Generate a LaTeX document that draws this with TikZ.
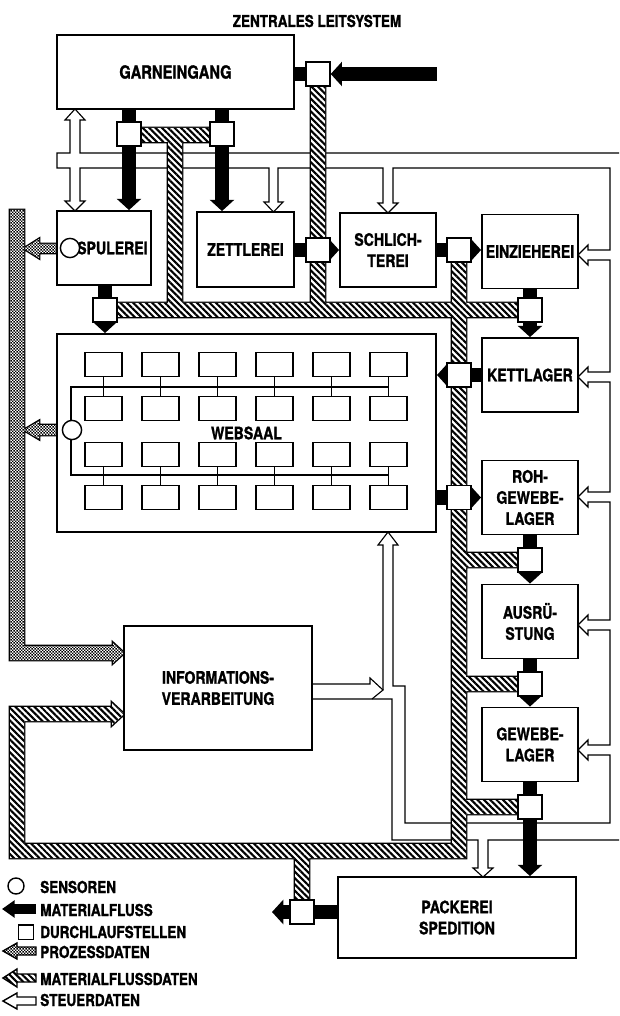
\documentclass[tikz,border=0pt]{standalone}
\usepackage{fontspec}
\setmainfont{TeX Gyre Heros}
\newfontfamily\cnfont{TeX Gyre Heros}[FakeStretch=0.82, BoldFeatures={FakeBold=1.2}]
\usetikzlibrary{arrows.meta,patterns.meta}

\newcommand\boxfont{\cnfont\fontsize{12.2}{15}\selectfont\bfseries}
\newcommand\garnfont{\cnfont\fontsize{12.8}{15}\selectfont\bfseries}
\newcommand\legfont{\cnfont\fontsize{11.7}{13}\selectfont\bfseries}

\tikzdeclarepattern{
  name=checks,
  tile size={(2.4pt,2.4pt)},
  bounding box={(0pt,0pt) and (2.4pt,2.4pt)},
  code={\fill (0pt,0pt) rectangle (1.2pt,1.2pt); \fill (1.2pt,1.2pt) rectangle (2.4pt,2.4pt);}
}

\pgfdeclarelayer{back}
\pgfsetlayers{back,main}

% material flow data bars (hatched) and process data bars (checked)
\def\hatchbars{(311,86) rectangle (325,317) (140,128) rectangle (209,142)
  (168,142) rectangle (182,317) (117,303) rectangle (518,317)
  (452,262) rectangle (466,858) (466,553) rectangle (518,567)
  (466,677) rectangle (518,691) (466,800) rectangle (518,814)
  (10,844) rectangle (466,858) (10,707) rectangle (24,858)
  (10,707) rectangle (112,721) (112,703) -- (124,714) -- (112,725) -- cycle
  (295,858) rectangle (309,900)}
\def\procbars{(10,210) rectangle (24,660) (10,646) rectangle (113,660)
  (113,643) -- (124,653) -- (113,663) -- cycle
  (39,244) rectangle (62,253) (39,239) -- (24,248.5) -- (39,258) -- cycle
  (39,425) rectangle (63,435) (39,421) -- (24,430) -- (39,439) -- cycle}

\begin{document}
\begin{tikzpicture}[x=0.025cm, y=-0.025cm,
  box/.style={draw, line width=1.3pt, fill=white, align=center, inner sep=0pt, font=\boxfont},
  station/.style={box, minimum width=2.4cm, minimum height=1.85cm},
  pass/.style={draw, line width=1pt, fill=white, minimum width=0.6cm, minimum height=0.6cm, inner sep=0pt},
  sensor/.style={draw, line width=1pt, fill=white, circle, minimum size=0.48cm, inner sep=0pt},
  loom/.style={draw, line width=0.9pt, minimum width=0.925cm, minimum height=0.6cm, inner sep=0pt},
  wire/.style={line width=0.8pt},
  steuer/.style={line width=0.8pt, line join=miter},
  matbar/.style={line width=10pt},
  mat/.style={line width=10pt, -{Triangle[width=17pt, length=8pt]}},
  hatch/.style={pattern={Lines[angle=-45, distance=3.2pt, line width=1.5pt]}},
  legend/.style={font=\legfont, anchor=west, inner sep=0pt}]
\useasboundingbox (0,0) rectangle (619,1016);

\node[font=\legfont] (title) at (317,21) {ZENTRALES LEITSYSTEM};

% stations
\node[box, minimum width=5.925cm, minimum height=1.85cm, font=\garnfont] (garn) at (175.5,72) {GARNEINGANG};
\node[box, minimum width=2.35cm, minimum height=1.85cm] (spul) at (104,248) {\hspace*{0.42cm}SPULEREI};
\node[station, minimum width=2.425cm, minimum height=1.875cm] (zett) at (245.5,249.5) {ZETTLEREI};
\node[station] (schl) at (388,250) {SCHLICH-\\TEREI};
\node[station] (einz) at (530,251.5) {EINZIEHEREI};
\node[station] (kett) at (530,375) {KETTLAGER};
\node[box, minimum width=9.475cm, minimum height=4.95cm] (web) at (246.5,433) {WEBSAAL};
\node[station] (roh) at (530,497.5) {ROH-\\GEWEBE-\\LAGER};
\node[station] (ausr) at (530,621.5) {AUSRÜ-\\STUNG};
\node[station] (gewl) at (530,744.5) {GEWEBE-\\LAGER};
\node[box, minimum width=4.7cm, minimum height=3.1cm] (info) at (218,688) {INFORMATIONS-\\VERARBEITUNG};
\node[box, minimum width=5.95cm, minimum height=2.025cm] (pack) at (457,917.5) {PACKEREI\\SPEDITION};

% looms in the weaving hall
\foreach \i in {0,...,5} {
  \foreach \j/\yy in {1/364.5, 2/408.5, 3/454.5, 4/497.5}
    \node[loom] (m\i\j) at ({103.5+57*\i},\yy) {};
  \draw[wire] (m\i1.south) -- (m\i2.north);
  \draw[wire] (m\i3.south) -- (m\i4.north);
}
\draw[wire] (m51.south |- 0,387) -- (71,387) -- (71,475) -- (m53.south |- 0,475);

% sensors
\node[sensor] (ssens) at (70,248) {};
\node[sensor] (wsens) at (72,430) {};

% Durchlaufstellen
\node[pass] (in1) at (318,74) {};
\node[pass] (g1) at (129,134) {};
\node[pass] (g2) at (222,134) {};
\node[pass] (s1) at (105,310) {};
\node[pass] (z1) at (318,250) {};
\node[pass] (sc1) at (459,250) {};
\node[pass] (e1) at (530,310) {};
\node[pass] (k1) at (459,375) {};
\node[pass] (w1) at (459,497.5) {};
\node[pass] (r1) at (530,560) {};
\node[pass] (a1) at (530,684) {};
\node[pass] (gl1) at (530,807) {};
\node[pass] (p1) at (302,912) {};

\begin{pgfonlayer}{back}
% Steuerdaten
\draw[steuer] (619,153) -- (80,153) -- (80,120) -- (85,120) -- (75,109) -- (65,120) -- (70,120)
  -- (70,153) -- (57,153) -- (57,168) -- (70,168) -- (70,201) -- (65,201) -- (75,211) -- (85,201)
  -- (80,201) -- (80,168) -- (269,168) -- (269,202) -- (264,202) -- (273.5,212) -- (283,202)
  -- (278,202) -- (278,168) -- (383,168) -- (383,203) -- (378,203) -- (388,213) -- (398,203)
  -- (393,203) -- (393,168) -- (610,168)
  -- (610,250) -- (588,250) -- (588,245) -- (578,255) -- (588,265) -- (588,260) -- (610,260)
  -- (610,372) -- (588,372) -- (588,367) -- (578,377) -- (588,387) -- (588,382) -- (610,382)
  -- (610,492) -- (588,492) -- (588,487) -- (578,497) -- (588,507) -- (588,502) -- (610,502)
  -- (610,620) -- (588,620) -- (588,615) -- (578,625) -- (588,635) -- (588,630) -- (610,630)
  -- (610,745) -- (588,745) -- (588,740) -- (578,750) -- (588,760) -- (588,755) -- (610,755)
  -- (610,823) -- (405,823) -- (405,686) -- (393,686) -- (393,545) -- (398,545) -- (388,532)
  -- (378,545) -- (383,545) -- (383,690);
\draw[steuer] (info.east |- 0,684) -- (370,684) -- (370,678) -- (383,690) -- (372,699);
\draw[steuer] (info.east |- 0,699) -- (392,699) -- (392,840) -- (478,840) -- (478,868) -- (473,868)
  -- (483,877) -- (493,868) -- (488,868) -- (488,840) -- (619,840);

% Materialflussdaten
\draw[line width=2pt] \hatchbars;
\fill[white] \hatchbars;
\fill[hatch] \hatchbars;

% Prozessdaten
\draw[line width=2pt] \procbars;
\fill[white] \procbars;
\fill[pattern=checks] \procbars;

% Materialfluss
\coordinate (yarn) at (437,74);
\coordinate (out) at (272,912);
\draw[mat] (yarn) -- (in1.east);
\draw[matbar] (in1) -- (in1 -| garn.east);
\draw[matbar] (g1 |- garn.south) -- (g1);
\draw[mat] (g1) -- (g1 |- spul.north);
\draw[matbar] (g2 |- garn.south) -- (g2);
\draw[mat] (g2) -- (g2 |- zett.north);
\draw[matbar] (s1 |- spul.south) -- (s1);
\draw[mat] (s1) -- (s1 |- web.north);
\draw[matbar] (z1 -| zett.east) -- (z1);
\draw[mat] (z1) -- (z1 -| schl.west);
\draw[matbar] (sc1 -| schl.east) -- (sc1);
\draw[mat] (sc1) -- (sc1 -| einz.west);
\draw[matbar] (einz.south) -- (e1);
\draw[mat] (e1) -- (kett.north);
\draw[matbar] (k1 -| kett.west) -- (k1);
\draw[mat] (k1) -- (k1 -| web.east);
\draw[matbar] (w1 -| web.east) -- (w1);
\draw[mat] (w1) -- (w1 -| roh.west);
\draw[matbar] (roh.south) -- (r1);
\draw[mat] (r1) -- (ausr.north);
\draw[matbar] (ausr.south) -- (a1);
\draw[mat] (a1) -- (gewl.north);
\draw[matbar] (gewl.south) -- (gl1);
\draw[mat] (gl1) -- (gl1 |- pack.north);
\draw[matbar] (p1 -| pack.west) -- (p1);
\draw[mat] (p1) -- (out);
\end{pgfonlayer}

% legend
\node[sensor, minimum size=0.4cm] (lsens) at (16,886) {};
\node[legend] (tsens) at (40,887) {SENSOREN};
\draw[line width=7.5pt, -{Triangle[width=12pt, length=9pt]}] (36,909) -- (2,909);
\node[legend] (tmat) at (40,910) {MATERIALFLUSS};
\node[pass, minimum width=0.38cm, minimum height=0.36cm] (lpass) at (26,932) {};
\node[legend] (tpass) at (40,932) {DURCHLAUFSTELLEN};
\draw[line width=1pt, fill=white] (36,947) -- (17,947) -- (17,943) -- (3,951) -- (17,959) -- (17,955) -- (36,955) -- cycle;
\fill[pattern=checks] (36,947) -- (17,947) -- (17,943) -- (3,951) -- (17,959) -- (17,955) -- (36,955) -- cycle;
\node[legend] (tproc) at (40,952) {PROZESSDATEN};
\draw[line width=1pt, fill=white] (36,974) -- (17,974) -- (17,969) -- (3,978) -- (17,987) -- (17,982) -- (36,982) -- cycle;
\fill[hatch] (36,974) -- (17,974) -- (17,969) -- (3,978) -- (17,987) -- (17,982) -- (36,982) -- cycle;
\node[legend] (tmfd) at (40,979) {MATERIALFLUSSDATEN};
\draw[line width=1pt] (36,997) -- (17,997) -- (17,993) -- (3,1001) -- (17,1009) -- (17,1005) -- (36,1005) -- cycle;
\node[legend] (tsteu) at (40,1000) {STEUERDATEN};
\end{tikzpicture}
\end{document}
